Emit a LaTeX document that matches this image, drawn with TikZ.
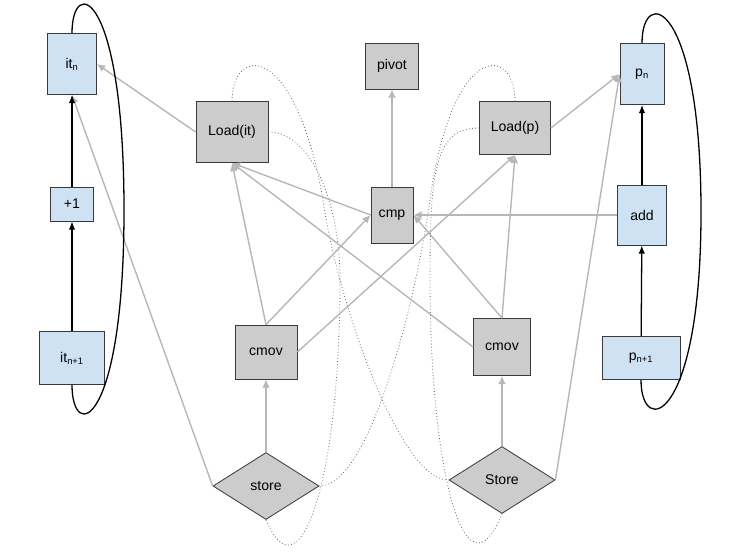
\documentclass[tikz,border=0pt]{standalone}
\usepackage{fontspec}
\setmainfont{Liberation Sans}
\usepackage{tikz}
\usetikzlibrary{arrows.meta, positioning, shapes.geometric}
\definecolor{regblue}{HTML}{CFE2F3}
\definecolor{opgray}{HTML}{CCCCCC}
\definecolor{edgegray}{HTML}{B7B7B7}
\definecolor{dotgray}{HTML}{6E6E6E}
\definecolor{border}{HTML}{3A3A3A}

\begin{document}
\begin{tikzpicture}[x=0.03cm, y=-0.03cm,
  reg/.style={draw=border, line width=0.7pt, fill=regblue, font=\large,
              inner sep=1pt},
  op/.style={draw=border, line width=0.7pt, fill=opgray, font=\large,
             inner sep=1pt},
  mem/.style={op, shape=diamond, aspect=1.58, inner sep=0pt,
              minimum width=3.18cm, minimum height=2.01cm},
  dep/.style={-{Latex[length=7pt, width=6.5pt]}, edgegray, line width=1.2pt},
  flow/.style={-{Latex[length=7pt, width=5.5pt]}, black, line width=1.1pt},
  ring/.style={black, line width=1.1pt},
  alias/.style={dotgray, dotted, line width=0.7pt}]
  \useasboundingbox (0,0) rectangle (740,555);

  % Iterator chain
  \node[reg, minimum width=1.47cm, minimum height=1.83cm] (itn) at (72,64)
        {it\textsubscript{n}};
  \node[reg, minimum width=1.29cm, minimum height=1.02cm] (inc) at (72,204)
        {+1};
  \node[reg, minimum width=1.95cm, minimum height=1.59cm] (itn1) at (72,358)
        {it\textsubscript{n+1}};

  % Pointer chain
  \node[reg, minimum width=1.32cm, minimum height=1.83cm] (pn) at (642,74)
        {p\textsubscript{n}};
  \node[reg, minimum width=1.47cm, minimum height=1.80cm] (add) at (642,215)
        {add};
  \node[reg, minimum width=2.34cm, minimum height=1.29cm] (pn1) at (641,358)
        {p\textsubscript{n+1}};

  % Loads, compare, moves
  \node[op, minimum width=2.16cm, minimum height=1.83cm] (loadit) at (232,132)
        {Load(it)};
  \node[op, minimum width=1.59cm, minimum height=1.38cm] (pivot) at (392,66)
        {pivot};
  \node[op, minimum width=2.13cm, minimum height=1.59cm] (loadp) at (515,128)
        {Load(p)};
  \node[op, minimum width=1.26cm, minimum height=1.68cm] (cmp) at (392,215)
        {cmp};
  \node[op, minimum width=1.86cm, minimum height=1.62cm] (cmovl) at (266,352)
        {cmov};
  \node[op, minimum width=1.71cm, minimum height=1.71cm] (cmovr) at (502,347)
        {cmov};

  % Stores
  \node[mem] (storel) at (266,486) {store};
  \node[mem] (storer) at (502,480) {Store};

  % Dotted aliasing
  \draw[alias] (loadit.north) .. controls (232,45) and (295,40) .. (323,200)
        .. controls (337,300) and (400,481) .. (storer.west);
  \draw[alias] (loadit.east) .. controls (310,132) and (340,200) .. (340,280)
        .. controls (340,480) and (300,600) .. (storel.south);
  \draw[alias] (loadp.north) .. controls (515,45) and (452,40) .. (430,200)
        .. controls (416,300) and (370,486) .. (storel.east);
  \draw[alias] (loadp.west) .. controls (435,128) and (430,170) .. (430,280)
        .. controls (430,470) and (465,605) .. (storer.south);

  % Dependencies
  \draw[dep] (loadit.west) -- (itn.east);
  \draw[dep] (storel.west) -- (itn.south);
  \draw[dep] (cmp.north) -- (pivot.south);
  \draw[dep] (cmp.west) -- (loadit.south);
  \draw[dep] (cmovl.north) -- (loadit.south);
  \draw[dep] (cmovr.west) -- (loadit.south);
  \draw[dep] (cmovl.east) -- (loadp.south);
  \draw[dep] (cmovr.north) -- (loadp.south);
  \draw[dep] (cmovl.north) -- (cmp.west);
  \draw[dep] (cmovr.north) -- (cmp.east);
  \draw[dep] (add.west) -- (cmp.east);
  \draw[dep] (loadp.east) -- (pn.west);
  \draw[dep] (storer.east) -- (pn.west);
  \draw[dep] (storel.north) -- (cmovl.south);
  \draw[dep] (storer.north) -- (cmovr.south);

  % Increments
  \draw[flow] (itn1) -- (inc);
  \draw[flow] (inc) -- (itn);
  \draw[flow] (pn1) -- (add);
  \draw[flow] (add) -- (pn);
  \draw[ring] (itn.north) .. controls (72,-25) and (124,-10) .. (124,210)
        .. controls (124,428) and (72,443) .. (itn1.south);
  \draw[ring] (pn.north) .. controls (642,-15) and (701,0) .. (701,212)
        .. controls (701,423) and (641,438) .. (pn1.south);
\end{tikzpicture}
\end{document}
